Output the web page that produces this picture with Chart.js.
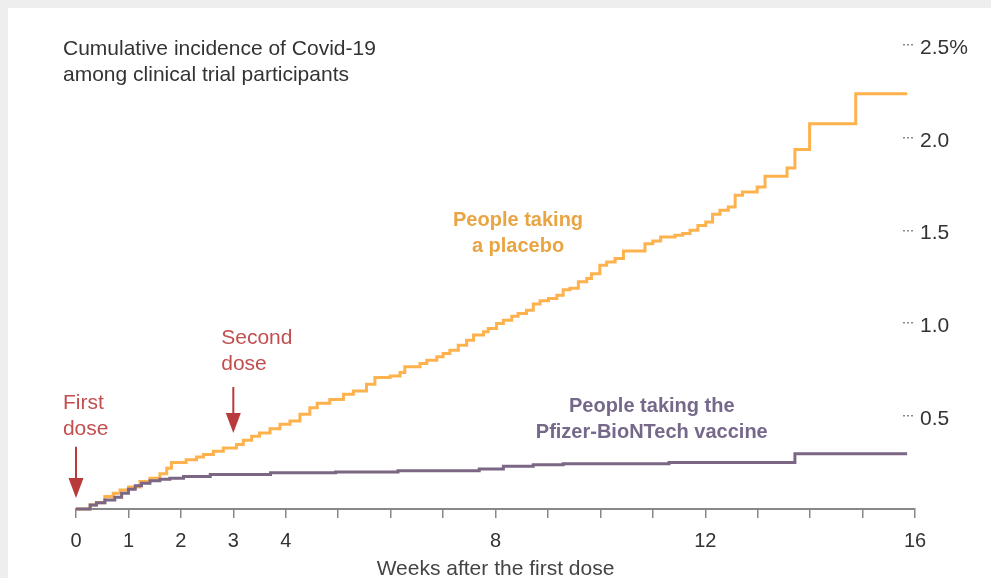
<!DOCTYPE html>
<html>
<head>
<meta charset="utf-8">
<title>Cumulative incidence of Covid-19</title>
<script src="https://cdn.jsdelivr.net/npm/chart.js@4.4.1/dist/chart.umd.min.js"></script>
<style>
  html, body {
    margin: 0;
    padding: 0;
    overflow: hidden;
  }
  body {
    width: 991px;
    height: 578px;
    background:
      linear-gradient(#eeeeee, #eeeeee) top left / 100% 8px no-repeat,
      linear-gradient(#eeeeee, #eeeeee) top left / 8px 100% no-repeat,
      #ffffff;
  }
  #riskChart {
    display: block;
  }
</style>
</head>
<body>
<canvas id="riskChart" width="991" height="578"></canvas>
<script>
// weeks after first dose where each step happens, and the cumulative incidence (%) after it
const placeboWeeks = [
  0, 0.27, 0.39, 0.55, 0.71, 0.84, 1.0, 1.22, 1.41, 1.6,
  1.73, 1.82, 2.1, 2.3, 2.43, 2.62, 2.81, 3.06, 3.19, 3.35,
  3.5, 3.7, 3.89, 4.08, 4.27, 4.46, 4.6, 4.84, 5.1, 5.29,
  5.54, 5.7, 5.99, 6.18, 6.27, 6.56, 6.69, 6.88, 7.0, 7.13,
  7.29, 7.45, 7.58, 7.77, 7.86, 8.02, 8.15, 8.31, 8.43, 8.59,
  8.72, 8.85, 9.01, 9.17, 9.29, 9.42, 9.58, 9.74, 9.83, 9.99,
  10.12, 10.28, 10.44, 10.85, 11.0, 11.15, 11.42, 11.57, 11.71, 11.86,
  12.01, 12.14, 12.28, 12.44, 12.57, 12.71, 12.99, 13.14, 13.56, 13.71,
  13.99, 14.87, 15.85
];
const placeboRisk = [
  0, 0.022, 0.034, 0.067, 0.085, 0.103, 0.118, 0.148, 0.166, 0.19,
  0.22, 0.25, 0.266, 0.28, 0.293, 0.311, 0.329, 0.347, 0.37, 0.392,
  0.41, 0.432, 0.456, 0.474, 0.51, 0.546, 0.57, 0.59, 0.618, 0.636,
  0.672, 0.709, 0.717, 0.736, 0.766, 0.784, 0.802, 0.82, 0.838, 0.856,
  0.882, 0.909, 0.937, 0.955, 0.973, 1.0, 1.017, 1.039, 1.053, 1.071,
  1.104, 1.122, 1.134, 1.151, 1.181, 1.19, 1.224, 1.242, 1.268, 1.313,
  1.331, 1.35, 1.39, 1.429, 1.444, 1.466, 1.475, 1.484, 1.502, 1.528,
  1.546, 1.588, 1.609, 1.627, 1.69, 1.708, 1.735, 1.793, 1.837, 1.937,
  2.076, 2.237, 2.237
];

const vaccineWeeks = [
  0, 0.27, 0.39, 0.55, 0.74, 0.87, 1.0, 1.13, 1.25, 1.41,
  1.6, 1.79, 2.05, 2.56, 3.71, 4.95, 6.14, 7.69, 8.15, 8.72,
  9.29, 11.31, 13.71, 15.85
];
const vaccineRisk = [
  0, 0.022, 0.034, 0.049, 0.063, 0.085, 0.107, 0.125, 0.139, 0.152,
  0.16, 0.166, 0.175, 0.186, 0.195, 0.2, 0.206, 0.215, 0.23, 0.239,
  0.244, 0.251, 0.298, 0.298
];

const weekLabels = [0, 1, 2, 3, 4, 8, 12, 16];
const riskTicks = [0.5, 1.0, 1.5, 2.0, 2.5];

const FONT = "'Liberation Sans', Arial, sans-serif";

function toPoints(xs, ys) {
  return xs.map((x, i) => ({ x: x, y: ys[i] }));
}

// notes inside the plot, positioned in data units
const notes = [
  { lines: ['People taking', 'a placebo'], week: 8.43, value: 1.557, color: '#e9a443', bold: true, align: 'center' },
  { lines: ['People taking the', 'Pfizer-BioNTech vaccine'], week: 10.98, value: 0.555, color: '#76688a', bold: true, align: 'center' },
  { lines: ['First', 'dose'], week: -0.25, value: 0.571, color: '#c24f4f', bold: false, align: 'left' },
  { lines: ['Second', 'dose'], week: 2.77, value: 0.921, color: '#c24f4f', bold: false, align: 'left' }
];
const arrows = [
  { week: 0, from: 0.335, to: 0.059 },
  { week: 3, from: 0.657, to: 0.41 }
];

const annotationPlugin = {
  id: 'annotations',
  afterDraw(chart) {
    const ctx = chart.ctx;
    const xs = chart.scales.x;
    const ys = chart.scales.y;
    ctx.save();

    // chart heading
    ctx.fillStyle = '#333333';
    ctx.font = '21px ' + FONT;
    ctx.textAlign = 'left';
    ctx.textBaseline = 'middle';
    ctx.fillText('Cumulative incidence of Covid-19', 63, 49);
    ctx.fillText('among clinical trial participants', 63, 75);

    // dotted marks next to the right-hand labels
    ctx.fillStyle = '#8a8a8a';
    riskTicks.forEach(v => {
      const py = Math.round(ys.getPixelForValue(v));
      for (let k = 0; k < 3; k++) {
        ctx.fillRect(chart.chartArea.right - 12 + k * 4, py - 1, 2, 1.5);
      }
    });

    notes.forEach(n => {
      ctx.fillStyle = n.color;
      ctx.font = (n.bold ? 'bold 20px ' : '21px ') + FONT;
      ctx.textAlign = n.align;
      const px = xs.getPixelForValue(n.week);
      const py = ys.getPixelForValue(n.value);
      n.lines.forEach((line, i) => ctx.fillText(line, px, py + i * 26));
    });

    ctx.strokeStyle = '#b83a3a';
    ctx.fillStyle = '#b83a3a';
    ctx.lineWidth = 2;
    arrows.forEach(a => {
      const px = xs.getPixelForValue(a.week);
      const top = ys.getPixelForValue(a.from);
      const tip = ys.getPixelForValue(a.to);
      ctx.beginPath();
      ctx.moveTo(px, top);
      ctx.lineTo(px, tip - 16);
      ctx.stroke();
      ctx.beginPath();
      ctx.moveTo(px - 7.5, tip - 20);
      ctx.lineTo(px + 7.5, tip - 20);
      ctx.lineTo(px, tip);
      ctx.closePath();
      ctx.fill();
    });
    ctx.restore();
  }
};

const chart = new Chart(document.getElementById('riskChart'), {
  type: 'line',
  data: {
    datasets: [
      {
        label: 'People taking the Pfizer-BioNTech vaccine',
        data: toPoints(vaccineWeeks, vaccineRisk),
        borderColor: '#7b6684',
        borderWidth: 3,
        stepped: 'before',
        pointRadius: 0,
        fill: false,
        clip: false,
        order: 0
      },
      {
        label: 'People taking a placebo',
        data: toPoints(placeboWeeks, placeboRisk),
        borderColor: '#fdb24d',
        borderWidth: 3,
        stepped: 'before',
        pointRadius: 0,
        fill: false,
        clip: false,
        order: 1
      }
    ]
  },
  options: {
    responsive: false,
    animation: false,
    layout: {
      padding: { left: 76, top: 45, right: 0, bottom: 0 }
    },
    plugins: {
      legend: { display: false },
      tooltip: { enabled: false }
    },
    scales: {
      x: {
        type: 'linear',
        position: 'bottom',
        min: 0,
        max: 16,
        afterFit(scale) { scale.height = 69; },
        border: { display: true, color: '#888888', width: 2 },
        grid: {
          drawOnChartArea: false,
          drawTicks: true,
          tickLength: 9,
          color: '#888888',
          lineWidth: 1.5
        },
        ticks: {
          stepSize: 1,
          autoSkip: false,
          maxRotation: 0,
          padding: 11,
          color: '#333333',
          font: { family: FONT, size: 20 },
          callback: v => weekLabels.includes(v) ? String(v) : ''
        },
        title: {
          display: true,
          text: 'Weeks after the first dose',
          color: '#444444',
          padding: { top: 0, bottom: -2 },
          font: { family: FONT, size: 21, lineHeight: 1 }
        }
      },
      y: {
        type: 'linear',
        position: 'right',
        min: 0,
        max: 2.5,
        afterFit(scale) { scale.width = 76; },
        afterBuildTicks(scale) {
          scale.ticks = riskTicks.map(v => ({ value: v }));
        },
        border: { display: false },
        grid: { display: false, drawTicks: false },
        ticks: {
          padding: 5,
          labelOffset: 3,
          color: '#333333',
          font: { family: FONT, size: 21 },
          callback: v => v === 2.5 ? '2.5%' : v.toFixed(1)
        }
      }
    }
  },
  plugins: [annotationPlugin]
});
</script>
</body>
</html>
